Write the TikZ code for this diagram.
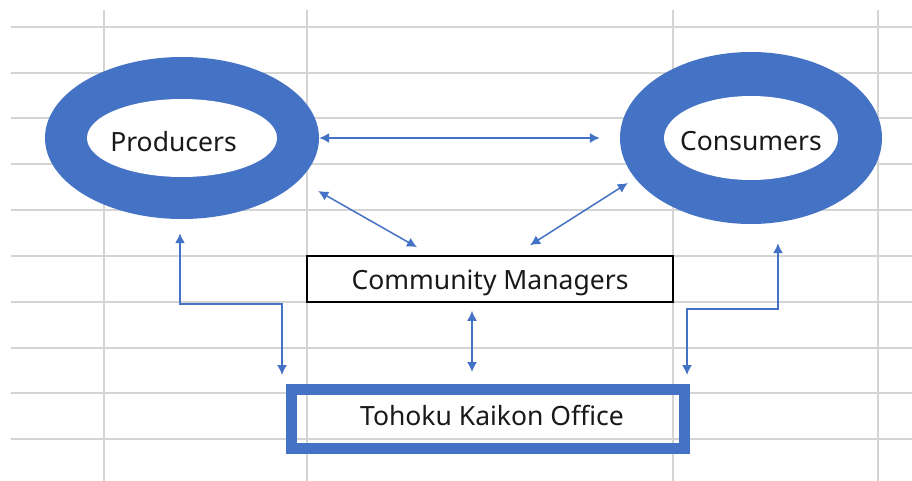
\documentclass[tikz,border=0pt]{standalone}
\usepackage{fontspec}
\setmainfont{Noto Sans}
\usetikzlibrary{arrows.meta,shapes.geometric}
\definecolor{ofblue}{HTML}{4472C4}
\definecolor{gridgray}{HTML}{D4D4D4}
\begin{document}
\begin{tikzpicture}[x=1pt,y=-1pt,
 gridline/.style={draw=gridgray,line width=1.8pt},
 ring/.style={ellipse,fill=ofblue,inner sep=0pt},
 hole/.style={ellipse,fill=white,inner sep=0pt},
 conn/.style={draw=ofblue,line width=1.5pt,{Latex[length=10pt,width=10pt]}-{Latex[length=10pt,width=10pt]}},
 txt/.style={font=\fontsize{26.5}{31}\selectfont,text=black!90,inner sep=0pt,text height=19pt,text depth=0pt}
]
\useasboundingbox (0,0) rectangle (912,481);
\fill[white] (0,0) rectangle (912,481);
\foreach \y in {27,73,118,164,210,256,302,348,393,439} \draw[gridline] (11,\y) -- (912,\y);
\foreach \x in {104,307,673,878} \draw[gridline] (\x,10) -- (\x,481);
% Producers
\node[ring,minimum width=274pt,minimum height=162pt] (prod) at (182,138) {};
\node[hole,minimum width=190pt,minimum height=78pt] (prodin) at (prod.center) {};
\node[txt] (prodt) at (173.5,142) {Producers};
% Consumers
\node[ring,minimum width=262pt,minimum height=172pt] (cons) at (751,138) {};
\node[hole,minimum width=174pt,minimum height=84pt] (consin) at (cons.center) {};
\node[txt] (const) at (751,141.5) {Consumers};
% Community Managers
\node[draw=black,line width=1.6pt,minimum width=366pt,minimum height=46pt,inner sep=0pt] (cm) at (490,279) {};
\node[txt] (cmt) at (490,280) {Community Managers};
% Tohoku Kaikon Office
\node[draw=ofblue,line width=11pt,minimum width=393pt,minimum height=59pt,inner sep=0pt] (tko) at (488,419) {};
\node[txt] (tkot) at (492,416) {Tohoku Kaikon Office};
% connectors
\draw[conn] (prod.east) -- ([xshift=-20pt]cons.west);
\draw[conn] ([shift={(-1,53)}]prod.east) -- ([shift={(-73,-8)}]cm.north);
\draw[conn] ([shift={(8,45)}]cons.west) -- ([shift={(40,-10)}]cm.north);
\draw[conn] ([shift={(-18,8)}]cm.south) -- ([shift={(-16,-12)}]tko.north);
\draw[conn] ([shift={(-2,14)}]prod.south) -- ++(0,71) -| ([shift={(-4,-9)}]tko.north west);
\draw[conn] ([shift={(27,19)}]cons.south) -- ++(0,66) -| ([shift={(-3,-9)}]tko.north east);
\end{tikzpicture}
\end{document}
